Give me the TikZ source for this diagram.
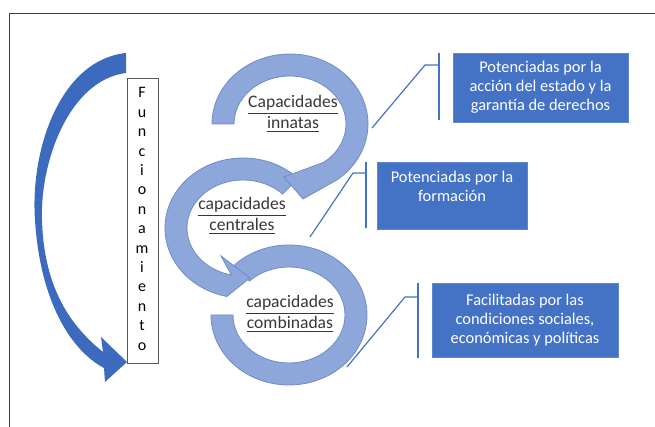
\documentclass[tikz,border=0pt]{standalone}
\usepackage{fontspec}
\setmainfont{Carlito}
\usetikzlibrary{calc,positioning}
\definecolor{boxblue}{RGB}{68,114,196}
\definecolor{ringblue}{RGB}{141,167,218}
\definecolor{ringedge}{RGB}{112,140,200}
\definecolor{arrowblue}{RGB}{59,106,190}
\definecolor{capgray}{RGB}{55,55,55}
\tikzset{
  ring/.style={fill=ringblue, draw=ringedge, line width=0.4pt},
  infobox/.style={fill=boxblue, draw=boxblue!85!white, text=white, align=center,
    font=\fontsize{8.2}{9.5}\selectfont, inner sep=0pt},
  captext/.style={align=center, text=capgray, font=\fontsize{8.8}{9}\selectfont},
  callout/.style={draw=boxblue, line width=0.6pt},
  calloutbar/.style={draw=boxblue, line width=1pt},
  letter/.style={font=\fontsize{8}{9}\selectfont, inner sep=0pt, anchor=base}
}
\begin{document}
\begin{tikzpicture}[x=0.5pt,y=0.5pt]
\useasboundingbox (0,0) rectangle (655,427);
% the frame round everything
\draw[black!75, line width=0.5pt] (9,-5) -- (9,413) -- (660,413);
% the box with the vertical word
\node[draw=black!65, line width=0.5pt, minimum width=15.5pt, minimum height=142.5pt, inner sep=0pt] (func) at (142.5,205.5) {};
\foreach \ch [count=\i] in {F,u,n,c,i,o,n,a,m,i,e,n,t,o}
  \node[letter] (l\i) at (142,{329-(\i-1)*19.4}) {\ch};
% the big curved arrow on the left
\fill[arrowblue] (126,374) .. controls (60,367) and (30,277) .. (35,207)
  .. controls (40,127) and (70,77) .. (104,59) -- (105,45) -- (127,65) -- (101,90) -- (103,75)
  .. controls (72,100) and (44,137) .. (42,207) .. controls (40,267) and (70,347) .. (126,354) -- cycle;
% the three rings
\coordinate (c1) at (290,303);
\coordinate (c2) at (243,199);
\coordinate (c3) at (289,112);
\filldraw[ring] ($(c3)+(135:78 and 70)$) arc[start angle=135, end angle=-180, x radius=78, y radius=70]
  -- ($(c3)+(180:56 and 48)$) arc[start angle=180, end angle=495, x radius=56, y radius=48] -- cycle;
\filldraw[ring] ($(c2)+(45:78 and 70)$) arc[start angle=45, end angle=258, x radius=78, y radius=70]
  -- (250,149) -- (221,171)
  -- ($(c2)+(258:56 and 48)$) arc[start angle=258, end angle=45, x radius=56, y radius=48] -- cycle;
\filldraw[ring] ($(c1)+(180:78 and 70)$) arc[start angle=180, end angle=-53, x radius=78, y radius=70]
  -- (303,228) -- (284,250)
  -- ($(c1)+(-53:56 and 48)$) arc[start angle=-53, end angle=180, x radius=56, y radius=48] -- cycle;
% the texts in the rings
\node[captext] (innatas) at (293,313) {\underline{Capacidades}\\\underline{innatas}};
\node[captext] (centrales) at (242,211) {\underline{capacidades}\\\underline{centrales}};
\node[captext] (combinadas) at (290,113) {\underline{capacidades}\\\underline{combinadas}};
% the blue boxes
\node[infobox, minimum width=87.5pt, minimum height=34.5pt] (accion) at (540.5,339.5)
  {Potenciadas por la\\acción del estado y la\\garantía de derechos};
\node[infobox, minimum width=75pt, minimum height=33.5pt] (formacion) at (452,231.5)
  {Potenciadas por la\\formación\\\mbox{}};
\node[infobox, minimum width=93pt, minimum height=37pt] (sociales) at (525,107)
  {Facilitadas por las\\condiciones sociales,\\económicas y políticas};
% the callouts
\coordinate (k1) at (439,362); \coordinate (e1) at (372,299);
\coordinate (k2) at (366,254); \coordinate (e2) at (310,190);
\coordinate (k3) at (418,130); \coordinate (e3) at (347,60);
\draw[calloutbar] (439,374) -- (439,307);
\draw[callout] (k1) -- ++(-14,0) -- (e1);
\draw[calloutbar] (366,265) -- (366,199);
\draw[callout] (k2) -- ++(-13,0) -- (e2);
\draw[calloutbar] (418,144) -- (418,69);
\draw[callout] (k3) -- ++(-13,0) -- (e3);
\end{tikzpicture}
\end{document}
